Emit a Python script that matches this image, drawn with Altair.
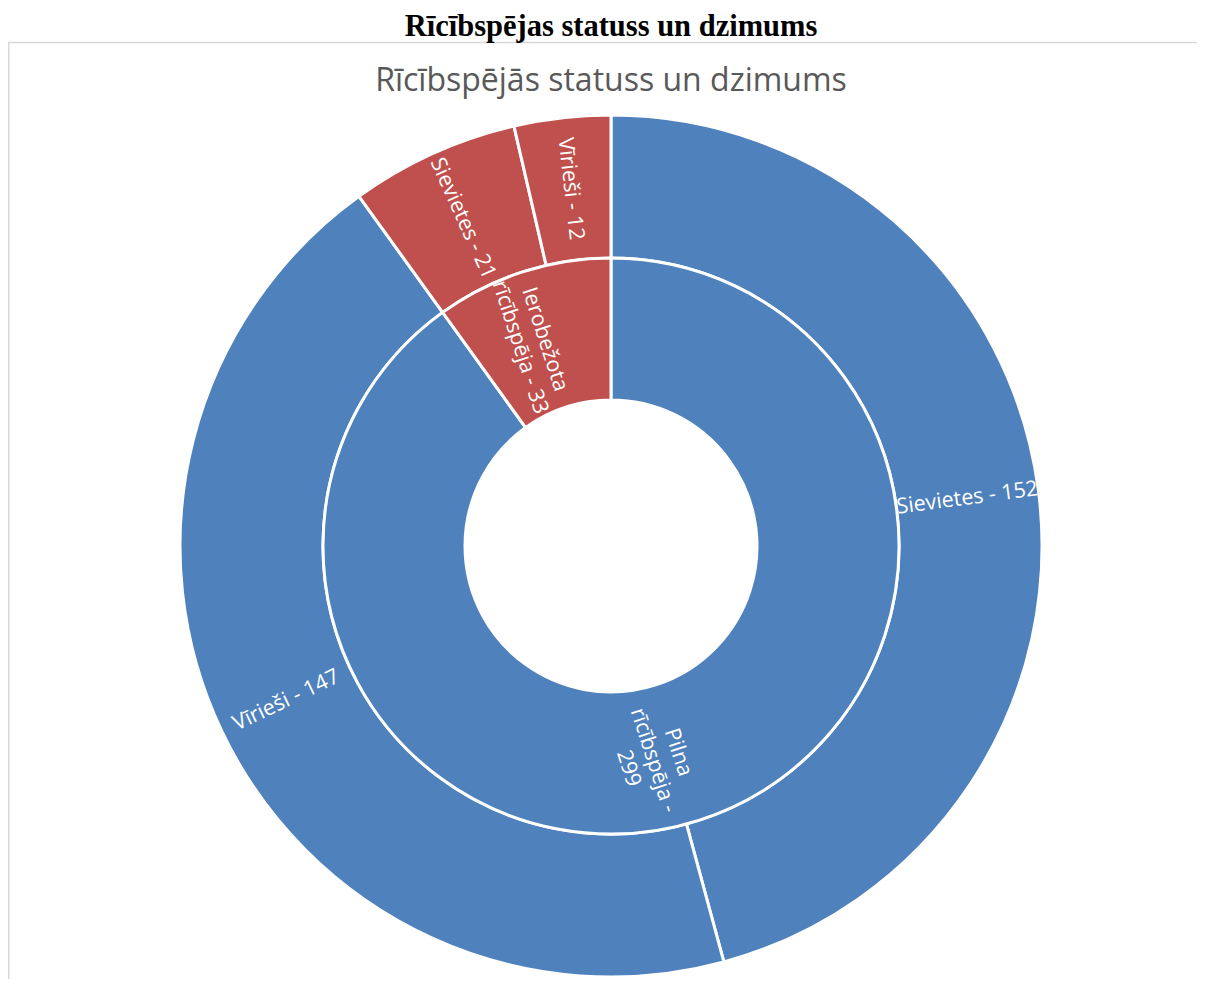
import altair as alt
import pandas as pd

page_title = "Rīcībspējas statuss un dzimums"
chart_title = "Rīcībspējās statuss un dzimums"

inner_labels = ["Pilna\nrīcībspēja -\n299", "Ierobežota\nrīcībspēja - 33"]
inner_groups = ["Pilna rīcībspēja", "Ierobežota rīcībspēja"]
inner_values = [299, 33]

outer_groups = ["Pilna rīcībspēja", "Pilna rīcībspēja", "Ierobežota rīcībspēja", "Ierobežota rīcībspēja"]
outer_names = ["Sievietes", "Vīrieši", "Sievietes", "Vīrieši"]
outer_values = [152, 147, 21, 12]

group_colors = ["#4F81BD", "#C0504D"]


def label_angles(values):
    total = sum(values)
    out, cum = [], 0
    for v in values:
        mid = (cum + v / 2) / total * 360
        rot = mid - 90
        if mid > 180:
            rot -= 180
        out.append(rot % 360)
        cum += v
    return out


inner_df = pd.DataFrame({
    "idx": range(len(inner_values)),
    "group": inner_groups,
    "label": inner_labels,
    "value": inner_values,
    "ang": label_angles(inner_values),
})
outer_df = pd.DataFrame({
    "idx": range(len(outer_values)),
    "group": outer_groups,
    "label": [f"{n} - {v}" for n, v in zip(outer_names, outer_values)],
    "value": outer_values,
    "ang": label_angles(outer_values),
})

W, H = 1189, 971
CX, CY = 603, 538
R0, R1, R2 = 146, 288, 431

color = alt.Color("group:N", scale=alt.Scale(domain=inner_groups, range=group_colors), legend=None)


def ring(df, r_in, r_out):
    base = alt.Chart(df).encode(
        theta=alt.Theta("value:Q", stack=True, scale=alt.Scale(domain=[0, 332])),
        order=alt.Order("idx:Q"),
        x=alt.value(CX),
        y=alt.value(CY),
    )
    arc = base.mark_arc(innerRadius=r_in, outerRadius=r_out, stroke="white", strokeWidth=3).encode(color=color)
    txt = base.mark_text(radius=(r_in + r_out) / 2, font="Open Sans", fontSize=21.5, color="white",
                         lineBreak="\n", lineHeight=26, align="center", baseline="middle").encode(
        text="label:N", angle=alt.Angle("ang:Q", scale=None))
    return arc, txt


inner_arc, inner_txt = ring(inner_df, R0, R1)
outer_arc, outer_txt = ring(outer_df, R1, R2)

tdf = pd.DataFrame({"t": [page_title]})
top_title = alt.Chart(tdf).mark_text(font="Liberation Serif", fontWeight="bold", fontSize=30.5,
                                     color="black", align="center", baseline="alphabetic").encode(
    text="t:N", x=alt.value(603), y=alt.value(27.5))
cdf = pd.DataFrame({"t": [chart_title]})
inner_title = alt.Chart(cdf).mark_text(font="Open Sans", fontSize=32, color="#595959",
                                       align="center", baseline="alphabetic").encode(
    text="t:N", x=alt.value(603), y=alt.value(83))

rdf = pd.DataFrame({"a": [0]})
top_rule = alt.Chart(rdf).mark_rule(color="#d9d9d9", strokeWidth=1.5).encode(
    x=alt.value(0), x2=alt.value(W), y=alt.value(34.5))
left_rule = alt.Chart(rdf).mark_rule(color="#d9d9d9", strokeWidth=1.5).encode(
    x=alt.value(0.75), y=alt.value(34.5), y2=alt.value(H))

chart = alt.layer(
    top_rule, left_rule, top_title, inner_title,
    outer_arc, inner_arc, outer_txt, inner_txt,
).resolve_scale(theta="shared").properties(
    width=W, height=H, autosize=alt.AutoSizeParams(type="none"), padding=0
).configure_view(stroke=None)

chart.save("out.html", embed_options={"renderer": "svg", "actions": False})
